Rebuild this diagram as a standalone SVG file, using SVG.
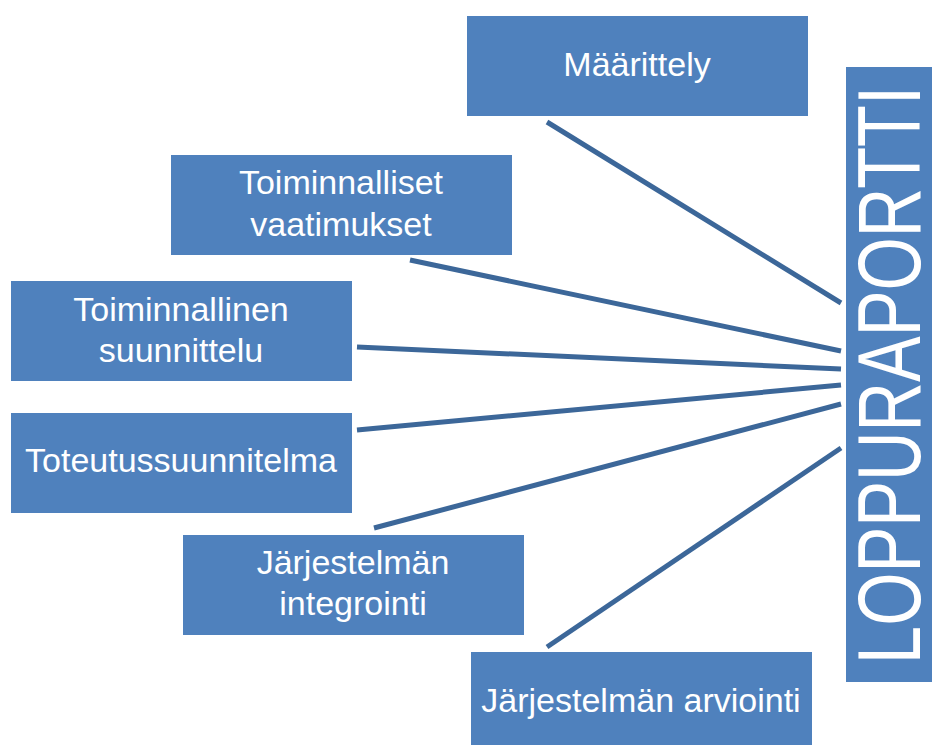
<svg xmlns="http://www.w3.org/2000/svg" width="932" height="745" viewBox="0 0 932 745">
  <style>
    .box { fill: #4f81bd; }
    .lbl { fill: #ffffff; font-family: "Liberation Sans", Arial, sans-serif; font-size: 34px; text-anchor: middle; }
    .big { fill: #ffffff; font-family: "Liberation Sans", Arial, sans-serif; font-size: 89px; }
    .conn { stroke: #3c6799; stroke-width: 5; fill: none; stroke-linecap: butt; }
  </style>
  <rect width="932" height="745" fill="#ffffff"/>
  <g id="connectors">
    <line class="conn" x1="547" y1="122" x2="841" y2="303"/>
    <line class="conn" x1="410" y1="260" x2="841" y2="351"/>
    <line class="conn" x1="357" y1="347" x2="841" y2="369"/>
    <line class="conn" x1="357" y1="430" x2="841" y2="385"/>
    <line class="conn" x1="374" y1="528" x2="841" y2="404"/>
    <line class="conn" x1="547" y1="647" x2="841" y2="448"/>
  </g>
  <g id="maarittely">
    <rect class="box" x="467" y="16" width="341" height="100"/>
    <text class="lbl" x="637" y="76">Määrittely</text>
  </g>
  <g id="toiminnalliset-vaatimukset">
    <rect class="box" x="171" y="155" width="341" height="100"/>
    <text class="lbl" x="341" y="194">Toiminnalliset</text>
    <text class="lbl" x="341" y="236">vaatimukset</text>
  </g>
  <g id="toiminnallinen-suunnittelu">
    <rect class="box" x="11" y="281" width="341" height="100"/>
    <text class="lbl" x="181" y="321">Toiminnallinen</text>
    <text class="lbl" x="181" y="362">suunnittelu</text>
  </g>
  <g id="toteutussuunnitelma">
    <rect class="box" x="11" y="413" width="341" height="100"/>
    <text class="lbl" x="181" y="472">Toteutussuunnitelma</text>
  </g>
  <g id="jarjestelman-integrointi">
    <rect class="box" x="183" y="535" width="341" height="100"/>
    <text class="lbl" x="353" y="574">Järjestelmän</text>
    <text class="lbl" x="353" y="615">integrointi</text>
  </g>
  <g id="jarjestelman-arviointi">
    <rect class="box" x="471" y="652" width="341" height="100"/>
    <text class="lbl" x="641" y="712">Järjestelmän arviointi</text>
  </g>
  <g id="loppuraportti">
    <rect class="box" x="846" y="67" width="90" height="615"/>
    <text class="big" transform="translate(920,664) rotate(-90)" x="0" y="0" textLength="578" lengthAdjust="spacingAndGlyphs">LOPPURAPORTTI</text>
  </g>
</svg>
